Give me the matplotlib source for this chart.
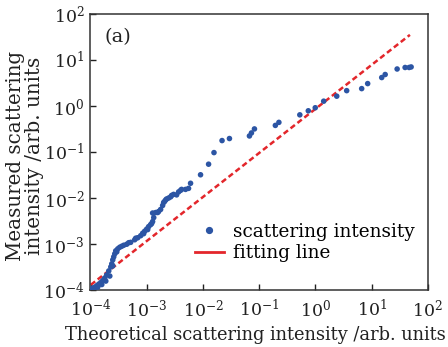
import matplotlib
matplotlib.use('Agg')
import matplotlib.pyplot as plt
from matplotlib.lines import Line2D
from matplotlib.ticker import LogLocator, NullLocator

plt.rcParams['font.family'] = 'DejaVu Serif'
plt.rcParams['mathtext.fontset'] = 'dejavuserif'

# measured vs theoretical scattering intensity
theo = [1.0e-4, 1.09e-4, 1.13e-4, 1.18e-4, 1.28e-4, 1.33e-4, 1.39e-4, 1.51e-4, 1.57e-4,
        1.63e-4, 1.77e-4, 1.85e-4, 1.92e-4, 2.09e-4, 2.18e-4, 2.27e-4, 2.36e-4, 2.46e-4,
        2.46e-4, 2.56e-4, 2.67e-4, 2.78e-4, 2.90e-4, 3.02e-4, 3.27e-4, 3.55e-4, 3.86e-4,
        4.36e-4, 4.73e-4, 5.13e-4, 6.05e-4, 6.30e-4, 6.84e-4, 7.73e-4, 8.39e-4, 8.73e-4,
        9.10e-4, 9.88e-4, 1.03e-3, 1.07e-3, 1.16e-3, 1.21e-3, 1.26e-3, 1.32e-3, 1.26e-3,
        1.43e-3, 1.55e-3, 1.61e-3, 1.75e-3, 1.90e-3, 1.98e-3, 2.06e-3, 2.15e-3, 2.24e-3,
        2.43e-3, 2.64e-3, 2.75e-3, 2.98e-3, 3.37e-3, 3.66e-3, 3.97e-3, 4.13e-3, 4.86e-3,
        5.50e-3, 5.97e-3, 8.99e-3, 1.25e-2, 1.56e-2, 2.17e-2, 2.94e-2, 6.67e-2, 7.24e-2,
        8.19e-2, 0.193, 0.223, 0.526, 0.745, 0.99, 1.40, 2.39, 3.59, 6.64, 8.49, 15.1,
        17.4, 28.4, 39.4, 46.4, 50.4]
meas = [1.05e-4, 1.11e-4, 1.03e-4, 1.16e-4, 1.25e-4, 1.16e-4, 1.35e-4, 1.46e-4, 1.32e-4,
        1.61e-4, 1.83e-4, 1.57e-4, 2.13e-4, 2.61e-4, 2.02e-4, 3.19e-4, 3.71e-4, 4.53e-4,
        3.35e-4, 5.27e-4, 6.14e-4, 7.13e-4, 6.78e-4, 7.88e-4, 8.51e-4, 8.95e-4, 9.42e-4,
        9.91e-4, 1.07e-3, 1.09e-3, 1.24e-3, 1.34e-3, 1.37e-3, 1.52e-3, 1.72e-3, 1.68e-3,
        1.90e-3, 2.11e-3, 2.06e-3, 2.39e-3, 2.64e-3, 2.78e-3, 3.08e-3, 3.76e-3, 4.72e-3,
        4.84e-3, 4.84e-3, 5.09e-3, 5.64e-3, 6.89e-3, 8.01e-3, 8.43e-3, 9.08e-3, 9.55e-3,
        1.00e-2, 1.06e-2, 1.14e-2, 1.20e-2, 1.17e-2, 1.36e-2, 1.47e-2, 1.54e-2, 1.54e-2,
        1.62e-2, 2.09e-2, 3.20e-2, 5.43e-2, 9.70e-2, 0.177, 0.196, 0.223, 0.259,
        0.317, 0.378, 0.440, 0.641, 0.785, 0.914, 1.27, 1.63, 2.15, 2.38, 3.06, 4.14,
        4.82, 6.35, 6.85, 6.85, 7.03]

# fitting line end points
fit_x = [1.0e-4, 48]
fit_y = [1.3e-4, 35]

blue = '#2c55a4'
red = '#e3262b'
txt = '#222222'

fig = plt.figure(figsize=(4.48, 3.47), dpi=100)
ax = fig.add_axes([0.201, 0.164, 0.754, 0.796])

ax.plot(fit_x, fit_y, color=red, linestyle=(0, (2.2, 1.3)), linewidth=1.8, zorder=2)
ax.scatter(theo, meas, s=16, color=blue, edgecolors='none', zorder=3)

ax.set_xscale('log')
ax.set_yscale('log')
ax.set_xlim(0.97e-4, 1e2)
ax.set_ylim(1e-4, 1e2)
ax.xaxis.set_major_locator(LogLocator(base=10, numticks=10))
ax.yaxis.set_major_locator(LogLocator(base=10, numticks=10))
ax.xaxis.set_minor_locator(NullLocator())
ax.yaxis.set_minor_locator(NullLocator())

ax.tick_params(direction='in', length=4, width=1, labelsize=12.5, colors=txt,
               top=False, right=False)
ax.tick_params(axis='x', pad=6)
ax.tick_params(axis='y', pad=4)
for sp in ax.spines.values():
    sp.set_color('#333333')
    sp.set_linewidth(1.1)

fig.text(0.571, 0.036, 'Theoretical scattering intensity /arb. units', fontsize=12.9,
         color=txt, ha='center', va='center')
fig.text(0.056, 0.55, 'Measured scattering\nintensity /arb. units', fontsize=14.3,
         color=txt, ha='center', va='center', rotation=90, linespacing=1.0)

ax.text(0.042, 0.915, '(a)', transform=ax.transAxes, fontsize=14, color=txt,
        va='center')

handles = [Line2D([], [], marker='o', linestyle='none', color=blue, markersize=4.2),
           Line2D([], [], color=red, linewidth=2)]
ax.legend(handles, ['scattering intensity', 'fitting line'], loc='lower right',
          bbox_to_anchor=(0.995, 0.06), frameon=False, fontsize=13.3,
          handlelength=1.6, handletextpad=0.5, labelspacing=0.2, borderaxespad=0.2)

fig.savefig('out.png', dpi=100)
